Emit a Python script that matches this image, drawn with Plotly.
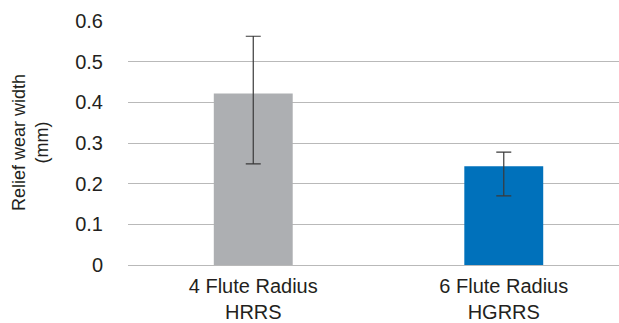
import plotly.graph_objects as go

categories = ["4 Flute Radius<br>HRRS", "6 Flute Radius<br>HGRRS"]
values = [0.422, 0.243]
err_plus = [0.141, 0.035]
err_minus = [0.173, 0.073]
bar_colors = ["#adafb2", "#0071bb"]
y_ticks = [0, 0.1, 0.2, 0.3, 0.4, 0.5, 0.6]
y_ticktext = ["0", "0.1", "0.2", "0.3", "0.4", "0.5", "0.6"]

W, H = 619, 323
ml, mr, mt, mb = 128, 0, 21, 58

fig = go.Figure(go.Bar(
    x=[0, 1], y=values, width=0.315,
    marker=dict(color=bar_colors, line=dict(width=0)),
    error_y=dict(type="data", symmetric=False, array=err_plus, arrayminus=err_minus,
                 color="#3a3a3a", thickness=1.2, width=7.5),
))

fig.update_layout(
    width=W, height=H,
    margin=dict(l=ml, r=mr, t=mt, b=mb, autoexpand=False),
    paper_bgcolor="white", plot_bgcolor="white",
    font=dict(family="Liberation Sans, Arial", color="#231f20", size=20),
    showlegend=False,
    xaxis=dict(range=[-0.5, 1.46], tickmode="array", tickvals=[0, 1], ticktext=categories,
               showgrid=False, zeroline=False, showline=False, automargin=False,
               ticks="outside", ticklen=3, tickcolor="rgba(0,0,0,0)",
               tickfont=dict(size=20), fixedrange=True),
    yaxis=dict(range=[0, 0.6005], tickmode="array", tickvals=y_ticks, ticktext=y_ticktext,
               showgrid=True, gridcolor="#b9b9b9", gridwidth=1.2, automargin=False,
               zeroline=True, zerolinecolor="#b9b9b9", zerolinewidth=1.2,
               showline=False, ticks="outside", ticklen=20, tickcolor="rgba(0,0,0,0)",
               tickfont=dict(size=20), fixedrange=True),
    annotations=[dict(
        text="Relief wear width<br>(mm)", textangle=-90,
        xref="paper", yref="paper", x=(30 - ml) / (W - ml - mr), y=0.5,
        xanchor="center", yanchor="middle", showarrow=False,
        font=dict(size=18, color="#231f20"),
    )],
)

fig.write_html("out.html", config={"displayModeBar": False},
               post_script="document.body.style.margin='0';")
